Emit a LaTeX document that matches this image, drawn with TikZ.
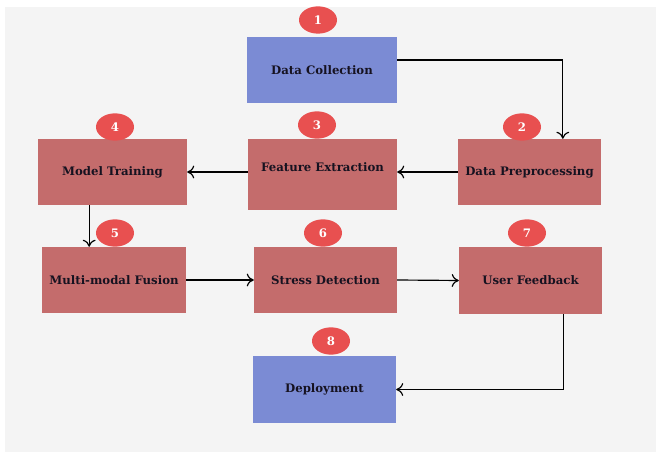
\documentclass[tikz,border=0pt]{standalone}
\usepackage{fontspec}
\setmainfont{DejaVu Serif}
\usetikzlibrary{shapes.geometric, arrows.meta, positioning}

\definecolor{stepred}{RGB}{196,108,108}
\definecolor{stepblue}{RGB}{123,139,212}
\definecolor{badgered}{RGB}{232,80,80}
\definecolor{bggray}{RGB}{244,244,244}
\definecolor{inkdark}{RGB}{22,18,32}

\tikzset{
  redbox/.style={fill=stepred, minimum width=4.29cm, minimum height=1.98cm, inner sep=0pt,
    font=\fontsize{10}{12}\selectfont\bfseries, text=inkdark},
  bluebox/.style={redbox, fill=stepblue},
  badge/.style={ellipse, fill=badgered, minimum width=1.14cm, minimum height=0.82cm, inner sep=0pt,
    font=\fontsize{10}{12}\selectfont\bfseries, text=white},
  flow/.style={line width=1pt, -{To[length=6pt, width=11pt]}}
}

\begin{document}
\begin{tikzpicture}[x=0.03cm, y=-0.03cm]
    \useasboundingbox (0,0) rectangle (662,459);
    \fill[bggray] (5,7) rectangle (656,452);

    \node[bluebox, minimum width=4.5cm] (collect) at (322,70) {Data Collection};
    \node[redbox] (preproc) at (529.5,172) {Data Preprocessing};
    \node[redbox, minimum width=4.47cm, minimum height=2.13cm, text depth=0.45cm] (extract) at (322.5,174.5) {Feature Extraction};
    \node[redbox, minimum width=4.47cm] (training) at (112.5,172) {Model Training};
    \node[redbox, minimum width=4.32cm] (fusion) at (114,280) {Multi-modal Fusion};
    \node[redbox] (stress) at (325.5,280) {Stress Detection};
    \node[redbox, minimum height=2.01cm] (feedback) at (530.5,280.5) {User Feedback};
    \node[bluebox, minimum height=2.01cm] (deploy) at (324.5,389.5) {Deployment};

    \node[badge] (b1) at (318,20) {1};
    \node[badge] (b2) at (522,127) {2};
    \node[badge] (b3) at (317,125) {3};
    \node[badge] (b4) at (115,127) {4};
    \node[badge] (b5) at (115,233) {5};
    \node[badge] (b6) at (323,233) {6};
    \node[badge] (b7) at (527,233) {7};
    \node[badge] (b8) at (331,341) {8};

    \draw[flow] ([yshift=0.3cm]collect.east) -| ([xshift=1cm]preproc.north);
    \draw[flow] (preproc.west) -- (preproc.west -| extract.east);
    \draw[flow] (extract.west |- training.east) -- (training.east);
    \draw[flow] ([xshift=-0.7cm]training.south) -- ([xshift=-0.7cm]training.south |- fusion.north);
    \draw[flow] (fusion.east) -- (stress.west);
    \draw[flow] (stress.east) -- (feedback.west);
    \draw[flow] ([xshift=1cm]feedback.south) |- (deploy.east);
  \end{tikzpicture}
\end{document}
